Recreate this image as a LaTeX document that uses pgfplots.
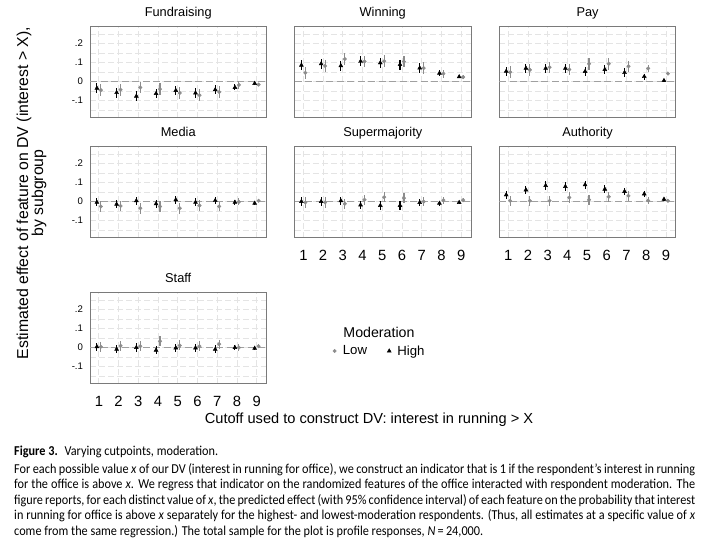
\documentclass[border=0pt]{standalone}
\usepackage{fontspec}
\setmainfont{Liberation Sans}
\newfontfamily\capfont[FakeStretch=0.9]{Carlito}
\usepackage{pgfplots}
\pgfplotsset{compat=1.18}
\usepackage{pgfplotstable}

\definecolor{lowgray}{HTML}{8C8C8C}
\definecolor{gridgray}{HTML}{E4E4E4}
\definecolor{framegray}{HTML}{7A7A7A}
\definecolor{zerogray}{HTML}{A0A0A0}

% columns: x, high (est, half-CI), low (est, half-CI)
\pgfplotstableread{
x hy he ly le
1 -0.035 0.026 -0.045 0.031
2 -0.058 0.026 -0.043 0.031
3 -0.077 0.026 -0.031 0.031
4 -0.063 0.026 -0.040 0.031
5 -0.047 0.026 -0.060 0.031
6 -0.060 0.026 -0.072 0.031
7 -0.043 0.024 -0.055 0.029
8 -0.031 0.016 -0.018 0.020
9 -0.010 0.008 -0.016 0.010
}\fundraising
\pgfplotstableread{
x hy he ly le
1 0.086 0.026 0.046 0.031
2 0.093 0.026 0.082 0.031
3 0.083 0.026 0.118 0.031
4 0.106 0.026 0.105 0.031
5 0.098 0.026 0.107 0.031
6 0.089 0.026 0.105 0.031
7 0.071 0.024 0.071 0.029
8 0.044 0.016 0.041 0.020
9 0.025 0.008 0.023 0.010
}\winning
\pgfplotstableread{
x hy he ly le
1 0.054 0.024 0.049 0.030
2 0.070 0.024 0.061 0.030
3 0.069 0.024 0.075 0.030
4 0.069 0.024 0.063 0.030
5 0.053 0.024 0.093 0.030
6 0.063 0.024 0.093 0.030
7 0.047 0.022 0.080 0.028
8 0.026 0.016 0.069 0.020
9 0.005 0.007 0.042 0.010
}\pay
\pgfplotstableread{
x hy he ly le
1 -0.004 0.022 -0.026 0.028
2 -0.014 0.022 -0.023 0.028
3  0.004 0.022 -0.035 0.028
4 -0.012 0.022 -0.026 0.028
5  0.009 0.022 -0.035 0.028
6 -0.004 0.022 -0.021 0.028
7  0.005 0.020 -0.026 0.026
8 -0.004 0.014 -0.002 0.018
9 -0.009 0.007  0.004 0.009
}\media
\pgfplotstableread{
x hy he ly le
1  0.000 0.022 -0.005 0.027
2  0.000 0.022 -0.005 0.027
3  0.004 0.022 -0.012 0.027
4 -0.018 0.022  0.009 0.027
5 -0.021 0.022  0.023 0.027
6 -0.021 0.022  0.018 0.027
7 -0.005 0.020  0.000 0.025
8 -0.009 0.014  0.007 0.018
9 -0.005 0.007  0.007 0.009
}\supermajority
\pgfplotstableread{
x hy he ly le
1 0.035 0.022 0.004 0.027
2 0.061 0.022 0.004 0.027
3 0.084 0.022 0.004 0.027
4 0.079 0.022 0.021 0.027
5 0.088 0.022 0.009 0.027
6 0.065 0.022 0.025 0.027
7 0.053 0.020 0.030 0.025
8 0.040 0.014 0.005 0.018
9 0.012 0.007 0.004 0.009
}\authority
\pgfplotstableread{
x hy he ly le
1  0.004 0.022 0.004 0.026
2 -0.009 0.022 0.009 0.026
3  0.000 0.022 0.007 0.026
4 -0.014 0.022 0.033 0.026
5 -0.002 0.022 0.011 0.026
6 -0.002 0.022 0.007 0.026
7 -0.009 0.020 0.018 0.024
8  0.000 0.014 0.000 0.018
9 -0.004 0.007 0.007 0.009
}\staff

\pgfplotsset{
  panel/.style={
    scale only axis, width=176.5pt, height=91pt, anchor=north west,
    xmin=0.55, xmax=9.5, ymin=-0.19, ymax=0.288,
    axis line style={framegray, line width=0.9pt},
    xtick={1,2,3,4,5,6,7,8,9},
    ytick={-0.15,-0.1,-0.05,0,0.05,0.1,0.15,0.2,0.25},
    xticklabels={}, yticklabels={},
    xmajorgrids, ymajorgrids,
    grid style={gridgray, line width=0.8pt, dash pattern=on 6pt off 3pt},
    tick align=outside, major tick length=3.5pt,
    xtick pos=bottom, ytick pos=left,
    xtick style={draw=none}, ytick style={draw=none},
    title style={font=\fontsize{12.8}{14}\selectfont, anchor=base, at={(0.5,1)}, yshift=4pt, inner sep=0pt},
    clip=false,
  },
  ylab/.style={
    yticklabels={,-.1,,0,,.1,,.2,},
    ytick style={framegray, line width=0.7pt},
    yticklabel style={font=\fontsize{9.6}{10}\selectfont},
  },
  xlab/.style={
    xticklabels={1,2,3,4,5,6,7,8,9},
    xtick style={framegray, line width=0.7pt},
    xticklabel style={font=\fontsize{14.8}{16}\selectfont, anchor=base, inner sep=0pt, yshift=-19.5pt},
  },
}

\newcommand{\panelplots}[1]{%
  \addplot[zerogray, line width=1.1pt, dash pattern=on 7pt off 3.5pt] coordinates {(0.55,0) (9.5,0)};
  \addplot[only marks, mark=*, mark size=1.8pt, color=lowgray,
    error bars/.cd, y dir=both, y explicit, error mark=none,
    error bar style={lowgray, line width=1.1pt}]
    table[x expr=\thisrow{x}+0.1, y=ly, y error=le] {#1};
  \addplot[only marks, mark=triangle*, mark size=2.3pt, color=black,
    error bars/.cd, y dir=both, y explicit, error mark=none,
    error bar style={black, line width=1.1pt}]
    table[x expr=\thisrow{x}-0.1, y=hy, y error=he] {#1};
}

\begin{document}
\begin{tikzpicture}
\useasboundingbox (0,0) rectangle (706pt,-541pt);

% Row 1
\begin{axis}[panel, ylab, at={(90pt,-26.7pt)}, title={Fundraising}]
\panelplots{\fundraising}
\end{axis}
\begin{axis}[panel, at={(294.5pt,-26.7pt)}, title={Winning}]
\panelplots{\winning}
\end{axis}
\begin{axis}[panel, at={(499.3pt,-26.7pt)}, title={Pay}]
\panelplots{\pay}
\end{axis}

% Row 2
\begin{axis}[panel, ylab, at={(90pt,-146.7pt)}, title={Media}]
\panelplots{\media}
\end{axis}
\begin{axis}[panel, xlab, at={(294.5pt,-146.7pt)}, title={Supermajority}]
\panelplots{\supermajority}
\end{axis}
\begin{axis}[panel, xlab, at={(499.3pt,-146.7pt)}, title={Authority}]
\panelplots{\authority}
\end{axis}

% Row 3
\begin{axis}[panel, ylab, xlab, at={(90pt,-292.7pt)}, title={Staff}]
\panelplots{\staff}
\end{axis}

% Legend
\begin{axis}[hide axis, scale only axis, width=10pt, height=10pt,
  at={(379pt,-351pt)}, anchor=center, xmin=0, xmax=1, ymin=0, ymax=1,
  legend columns=2,
  legend image code/.code={\path (-3pt,0pt) (6pt,0pt); \draw[#1] plot coordinates {(0pt,0pt)};},
  legend style={draw=none, fill=none, at={(0.5,0.5)}, anchor=center,
    font=\fontsize{13.2}{15}\selectfont,
    /tikz/every even column/.append style={column sep=17pt}}]
\addlegendimage{only marks, mark=*, mark size=1.8pt, lowgray}
\addlegendentry{Low}
\addlegendimage{only marks, mark=triangle*, mark size=2.3pt, black}
\addlegendentry{High}
\end{axis}
\node[font=\fontsize{14.2}{16}\selectfont] at (379pt,-332.7pt) {Moderation};

% Axis titles
\node[font=\fontsize{14.6}{16}\selectfont, anchor=base] at (369pt,-423pt)
  {Cutoff used to construct DV: interest in running > X};
\node[font=\fontsize{15.8}{18}\selectfont, rotate=90, anchor=base] at (28pt,-193pt)
  {Estimated effect of feature on DV (interest > X),};
\node[font=\fontsize{15.8}{18}\selectfont, rotate=90, anchor=base] at (43pt,-193pt)
  {by subgroup};

% Caption
\begin{scope}[every node/.style={anchor=base west, inner sep=0pt, font=\capfont\fontsize{13.6}{15}\selectfont}]
\node at (14pt,-455pt) {\textbf{Figure 3.}\enspace Varying cutpoints, moderation.};
\node at (14pt,-473pt) {\makebox[681pt][s]{For each possible value \textit{x} of our DV (interest in running for office), we construct an indicator that is 1 if the respondent’s interest in running}};
\node at (14pt,-488.6pt) {\makebox[681pt][s]{for the office is above \textit{x}. We regress that indicator on the randomized features of the office interacted with respondent moderation. The}};
\node at (14pt,-504.2pt) {\makebox[681pt][s]{figure reports, for each distinct value of \textit{x}, the predicted effect (with 95\% confidence interval) of each feature on the probability that interest}};
\node at (14pt,-519.8pt) {\makebox[681pt][s]{in running for office is above \textit{x} separately for the highest- and lowest-moderation respondents. (Thus, all estimates at a specific value of \textit{x}}};
\node at (14pt,-535.4pt) {come from the same regression.) The total sample for the plot is profile responses, \textit{N}\,=\,24,000.};
\end{scope}
\end{tikzpicture}
\end{document}
